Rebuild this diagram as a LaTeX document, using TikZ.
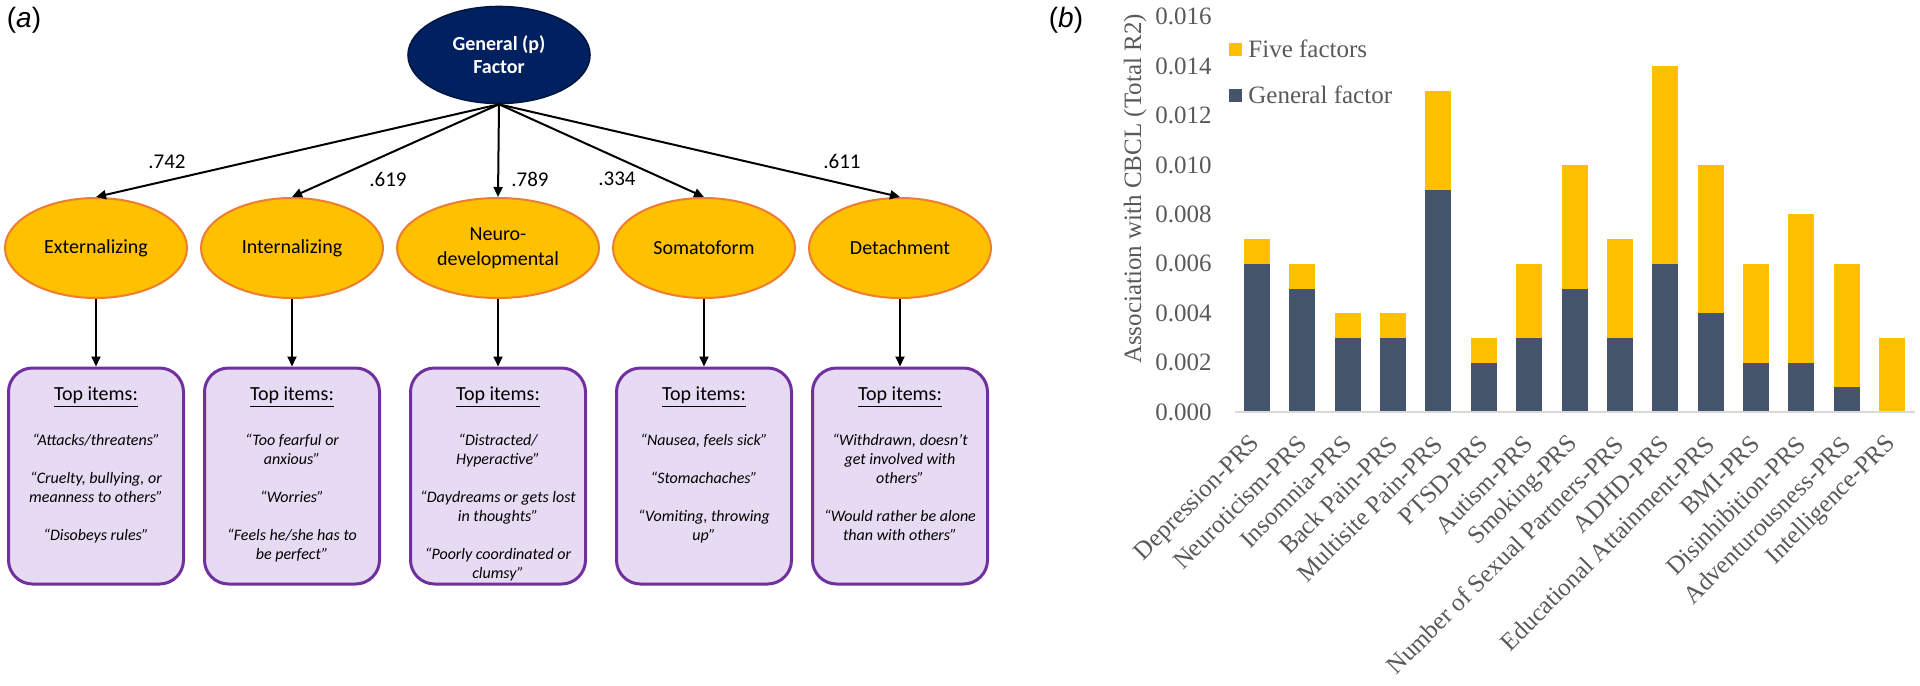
\documentclass[tikz,border=0pt]{standalone}
\usepackage{fontspec}
\setmainfont{Liberation Serif}
\newfontfamily\calibri{Carlito}
\newfontfamily\arialfont{Liberation Sans}
\usetikzlibrary{shapes.geometric,arrows.meta}
\definecolor{navy}{HTML}{002060}
\definecolor{amber}{HTML}{FFC000}
\definecolor{rim}{HTML}{ED7D31}
\definecolor{plum}{HTML}{7030A0}
\definecolor{lilac}{HTML}{E6DBF2}
\definecolor{slate}{HTML}{44546A}
\definecolor{axisgray}{HTML}{595959}
\definecolor{linegray}{HTML}{D9D9D9}
\begin{document}
\begin{tikzpicture}[x=0.5pt,y=-0.5pt, every node/.style={inner sep=0pt},
    general/.style={ellipse,draw=navy!70!black,line width=.8pt,fill=navy,text=white,minimum width=91pt,minimum height=48.5pt,align=center,font=\calibri\bfseries\fontsize{10}{11.5}\selectfont},
    factor/.style={ellipse,draw=rim,line width=1pt,fill=amber,minimum width=91pt,minimum height=50pt,align=center,font=\calibri\fontsize{10}{12.5}\selectfont},
    itembox/.style={draw=plum,line width=1.5pt,fill=lilac,rounded corners=12pt,minimum width=87.5pt,minimum height=108pt},
    itemtext/.style={anchor=north,align=center,font=\calibri\itshape\fontsize{8}{9.5}\selectfont},
    coef/.style={font=\calibri\fontsize{10.5}{12}\selectfont},
    link/.style={-{Triangle[length=5pt,width=4.5pt]},line width=1pt},
    panel/.style={font=\arialfont\fontsize{14}{16}\selectfont},
    chart/.style={text=axisgray,font=\fontsize{12.5}{14}\selectfont},
    ytick/.style={chart,anchor=east},
    xlab/.style={chart,anchor=east,rotate=45},
    fivebar/.style={fill=amber},
    genbar/.style={fill=slate}]
  \useasboundingbox (0,0) rectangle (1920,685);

  \node [panel] (pa) at (24,20) {({\itshape a})};
  \node [panel] (pb) at (1066,20) {({\itshape b})};

  \node [general] (g) at (499,55) {General (p)\\Factor};
  \node [factor] (ext) at (96,248) {Externalizing};
  \node [factor] (int) at (292,248) {Internalizing};
  \node [factor,minimum width=101pt] (neu) at (498,248) {Neuro-\\developmental};
  \node [factor] (som) at (704,248) {Somatoform};
  \node [factor] (det) at (900,248) {Detachment};

  \draw [link] (g.south) -- (ext.north);
  \draw [link] (g.south) -- (int.north);
  \draw [link] (g.south) -- (neu.north);
  \draw [link] (g.south) -- (som.north);
  \draw [link] (g.south) -- (det.north);

  \node [coef] (c1) at (167,162) {.742};
  \node [coef] (c2) at (388,179) {.619};
  \node [coef] (c3) at (530,179) {.789};
  \node [coef] (c4) at (617,179) {.334};
  \node [coef] (c5) at (842,161) {.611};

  \node [itembox] (b1) at (96,476) {};
  \node [itembox] (b2) at (292,476) {};
  \node [itembox] (b3) at (498,476) {};
  \node [itembox] (b4) at (704,476) {};
  \node [itembox] (b5) at (900,476) {};

  \draw [link] (ext) -- (b1);
  \draw [link] (int) -- (b2);
  \draw [link] (neu) -- (b3);
  \draw [link] (som) -- (b4);
  \draw [link] (det) -- (b5);

  \node [itemtext] (t1) at (96,386) {{\upshape\fontsize{10}{9.5}\selectfont\underline{Top items:}}\\[13pt]
    “Attacks/threatens”\\[9.5pt]“Cruelty, bullying, or\\meanness to others”\\[9.5pt]“Disobeys rules”};
  \node [itemtext] (t2) at (292,386) {{\upshape\fontsize{10}{9.5}\selectfont\underline{Top items:}}\\[13pt]
    “Too fearful or\\anxious”\\[9.5pt]“Worries”\\[9.5pt]“Feels he/she has to\\be perfect”};
  \node [itemtext] (t3) at (498,386) {{\upshape\fontsize{10}{9.5}\selectfont\underline{Top items:}}\\[13pt]
    “Distracted/\\Hyperactive”\\[9.5pt]“Daydreams or gets lost\\in thoughts”\\[9.5pt]“Poorly coordinated or\\clumsy”};
  \node [itemtext] (t4) at (704,386) {{\upshape\fontsize{10}{9.5}\selectfont\underline{Top items:}}\\[13pt]
    “Nausea, feels sick”\\[9.5pt]“Stomachaches”\\[9.5pt]“Vomiting, throwing\\up”};
  \node [itemtext] (t5) at (900,386) {{\upshape\fontsize{10}{9.5}\selectfont\underline{Top items:}}\\[13pt]
    “Withdrawn, doesn’t\\get involved with\\others”\\[9.5pt]“Would rather be alone\\than with others”};

  \node [chart,rotate=90] (ylab) at (1135,189) {Association with CBCL (Total R2)};
  \foreach \k/\t in {0/0.000,1/0.002,2/0.004,3/0.006,4/0.008,5/0.010,6/0.012,7/0.014,8/0.016}
    \node [ytick] (y\k) at (1212,412-\k*49.4) {\t};

  \foreach \i/\lab/\tot/\gen in {1/Depression-PRS/7/6,2/Neuroticism-PRS/6/5,3/Insomnia-PRS/4/3,
      4/Back Pain-PRS/4/3,5/Multisite Pain-PRS/13/9,6/PTSD-PRS/3/2,7/Autism-PRS/6/3,
      8/Smoking-PRS/10/5,9/Number of Sexual Partners-PRS/7/3,10/ADHD-PRS/14/6,
      11/Educational Attainment-PRS/10/4,12/BMI-PRS/6/2,13/Disinhibition-PRS/8/2,
      14/Adventurousness-PRS/6/1,15/Intelligence-PRS/3/0} {
    \pgfmathsetmacro\xc{1257+(\i-1)*45.36}
    \fill [fivebar] (\xc-13,412) rectangle (\xc+13,412-\tot*24.7);
    \fill [genbar] (\xc-13,412) rectangle (\xc+13,412-\gen*24.7);
    \node [xlab] (x\i) at (\xc,440) {\lab};
  }
  \draw [linegray,line width=1pt] (1235,412) -- (1915,412);

  \fill [fivebar] (1229,43) rectangle (1242,56);
  \node [chart,anchor=west] (leg1) at (1248,49) {Five factors};
  \fill [genbar] (1229,89) rectangle (1242,102);
  \node [chart,anchor=west] (leg2) at (1248,95) {General factor};
\end{tikzpicture}
\end{document}
